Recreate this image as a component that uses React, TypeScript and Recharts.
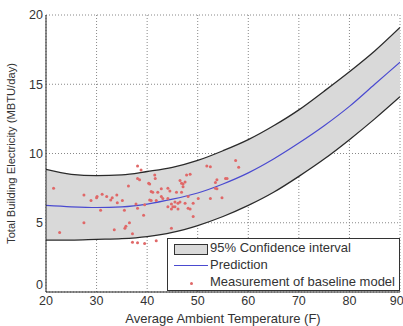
import React from "react";
import {
  ComposedChart,
  Area,
  Line,
  Scatter,
  XAxis,
  YAxis,
  CartesianGrid,
} from "recharts";

// temperature grid for the fitted curve (F)
const temps = [20, 25, 30, 35, 40, 45, 50, 55, 60, 65, 70, 75, 80, 85, 90];
const prediction = [6.25, 6.15, 6.1, 6.15, 6.35, 6.7, 7.15, 7.8, 8.6, 9.6, 10.75, 12.0, 13.4, 15.0, 16.6];
const upperBound = [8.85, 8.5, 8.4, 8.45, 8.7, 9.0, 9.5, 10.2, 11.0, 12.0, 13.15, 14.5, 15.9, 17.4, 19.1];
const lowerBound = [3.75, 3.75, 3.8, 3.85, 4.0, 4.3, 4.8, 5.45, 6.25, 7.2, 8.35, 9.6, 11.0, 12.5, 14.1];

// baseline measurements [temperature, electricity]
const measurements: [number, number][] = [
  [21.5, 7.5], [22.7, 4.3], [27.5, 7.0], [27.5, 5.0], [28.9, 6.6], [30.1, 6.9],
  [31.1, 7.05], [32, 6.9], [32.8, 6.65], [30.8, 5.9], [33.5, 4.5], [34.1, 6.45],
  [35.1, 6.6], [35.5, 5.9], [35.8, 4.75], [36.3, 7.65], [36.5, 5.0], [35.6, 4.6],
  [37.1, 4.2], [37.1, 3.6], [38.1, 8.2], [38.5, 8.1], [37.8, 6.35], [38.1, 6.05],
  [39.3, 5.55], [39.5, 6.3], [40.3, 7.85], [40.5, 6.65], [40.8, 7.25], [41.5, 8.45],
  [41.6, 8.2], [42.1, 7.2], [42.8, 6.9], [43.1, 6.75], [41.8, 3.7], [39.5, 3.5],
  [38.1, 3.55], [44.1, 7.5], [44.8, 6.35], [45.5, 6.15], [46.1, 6.4], [46.8, 7.85],
  [47.1, 7.6], [47.5, 7.95], [47.8, 8.45], [48.1, 6.9], [48.1, 6.05], [49.1, 6.4],
  [49.1, 5.45], [52.5, 9.05], [53.8, 8.1], [55.5, 8.2], [53.5, 7.5], [58.1, 9.0],
  [52.5, 6.75], [54.8, 6.8], [38.1, 9.1], [38.8, 8.8], [40.5, 7.8], [42.8, 7.45],
  [41.1, 7.2], [46.5, 8.05], [48.5, 8.5], [47.1, 7.8], [46.8, 7.2], [44.5, 7.3],
  [45.8, 7.2], [44.1, 6.75], [41.8, 6.6], [40.8, 6.6], [45.5, 6.5], [46.5, 6.5],
  [45.1, 6.15], [44.1, 6.15], [44.8, 6.0], [46.1, 6.0], [47.5, 6.4], [48.5, 6.0],
  [44.8, 4.6], [51.8, 9.1], [57.5, 9.5], [53.5, 7.9], [55.8, 8.2], [53.8, 7.45],
  [50.1, 6.75], [30, 6.8], [34, 7.0], [33.1, 6.8],
];

const xTicks = [20, 30, 40, 50, 60, 70, 80, 90];
const yTicks = [0, 5, 10, 15, 20];

const curveData = temps.map((t, i) => ({
  x: t,
  band: [lowerBound[i], upperBound[i]],
  pred: prediction[i],
  hi: upperBound[i],
  lo: lowerBound[i],
}));
const pointData = measurements.map(([x, y]) => ({ x, y }));

const FONT = "'Liberation Sans', Arial, sans-serif";
const TEXT = "#333";

const Dot = (props: any) => (
  <circle cx={props.cx} cy={props.cy} r={1.5} fill="#e06868" />
);

// matlab puts the 0 label a little above the corner
const YTick = (props: any) => {
  const { x, y, payload } = props;
  const dy = payload.value === 0 ? -7 : 0;
  return (
    <text x={x} y={y + dy} dy="0.355em" textAnchor="end" fill={TEXT} fontSize={12.5} fontFamily={FONT}>
      {payload.value}
    </text>
  );
};

export default function App() {
  return (
    <div style={{ position: "relative", width: 403, height: 326, fontFamily: FONT }}>
      <style>{`body{margin:0;background:#fff}`}</style>
      <ComposedChart
        width={403}
        height={326}
        data={curveData}
        margin={{ top: 15, right: 3, bottom: 0, left: 0 }}
      >
        <CartesianGrid stroke="#888" strokeDasharray="1 2" ticks={xTicks} />
        <XAxis
          type="number"
          dataKey="x"
          domain={[20, 90]}
          ticks={xTicks}
          allowDataOverflow
          height={34}
          tickSize={0}
          tickMargin={4}
          tickLine={false}
          axisLine={{ stroke: "#222" }}
          tick={{ fill: TEXT, fontSize: 12.5, fontFamily: FONT }}
          label={{
            value: "Average Ambient Temperature (F)",
            position: "insideBottom",
            offset: 3,
            fill: TEXT,
            fontSize: 13,
            fontFamily: FONT,
          }}
        />
        <XAxis
          xAxisId="top"
          type="number"
          orientation="top"
          domain={[20, 90]}
          height={0}
          tick={false}
          tickLine={false}
          axisLine={{ stroke: "#222" }}
        />
        <YAxis
          type="number"
          domain={[0, 20]}
          ticks={yTicks}
          width={46}
          tickSize={0}
          tickMargin={3}
          tickLine={false}
          axisLine={{ stroke: "#222" }}
          tick={<YTick />}
          label={{
            value: "Total Building Electricity (MBTU/day)",
            angle: -90,
            position: "insideLeft",
            offset: 11,
            fill: TEXT,
            fontSize: 11.2,
            fontFamily: FONT,
            style: { textAnchor: "middle" },
          }}
        />
        <YAxis
          yAxisId="right"
          orientation="right"
          domain={[0, 20]}
          width={0}
          tick={false}
          tickLine={false}
          axisLine={{ stroke: "#222" }}
        />
        <Area
          dataKey="band"
          type="monotone"
          fill="#d9d9d9"
          fillOpacity={1}
          stroke="none"
          isAnimationActive={false}
        />
        <Line dataKey="hi" type="monotone" stroke="#2a2a2a" strokeWidth={1.3} dot={false} isAnimationActive={false} />
        <Line dataKey="lo" type="monotone" stroke="#2a2a2a" strokeWidth={1.3} dot={false} isAnimationActive={false} />
        <Line dataKey="pred" type="monotone" stroke="#4a4ad0" strokeWidth={1.2} dot={false} isAnimationActive={false} />
        <Scatter data={pointData} dataKey="y" shape={Dot} isAnimationActive={false} />
      </ComposedChart>
      <div
        style={{
          position: "absolute",
          left: 167,
          top: 238,
          width: 233,
          height: 53,
          border: "1px solid #333",
          background: "#fff",
          boxSizing: "border-box",
          fontSize: 13,
          color: TEXT,
          whiteSpace: "nowrap",
        }}
      >
        <div style={{ position: "absolute", left: 6, top: 5, width: 32, height: 9, background: "#d9d9d9", border: "1px solid #333" }} />
        <div style={{ position: "absolute", left: 42, top: 0, lineHeight: "17px" }}>95% Confidence interval</div>
        <div style={{ position: "absolute", left: 6, top: 26, width: 34, height: 0, borderTop: "1px solid #4a4ad0" }} />
        <div style={{ position: "absolute", left: 42, top: 17, lineHeight: "17px" }}>Prediction</div>
        <div style={{ position: "absolute", left: 22, top: 43, width: 3, height: 3, borderRadius: 2, background: "#e06868" }} />
        <div style={{ position: "absolute", left: 42, top: 34, lineHeight: "17px" }}>Measurement of baseline model</div>
      </div>
    </div>
  );
}
